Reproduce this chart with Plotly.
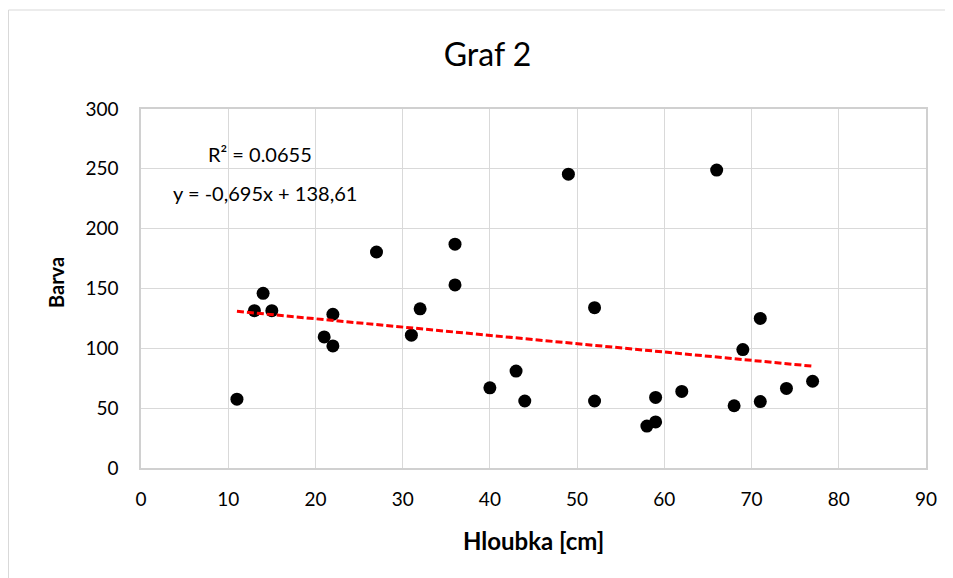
import plotly.graph_objects as go

hloubka = [11, 13, 14, 15, 21, 22, 22, 27, 31, 32, 36, 36, 40, 43, 44, 49, 52, 52,
           58, 59, 59, 62, 66, 68, 69, 71, 71, 74, 77]
barva = [57.5, 131.5, 146, 131.5, 109.5, 128.5, 102, 180.5, 111, 133, 187, 153, 67, 81, 56,
         245.5, 134, 56, 35, 38.5, 59, 64, 249, 52, 99, 125, 55.5, 66.5, 72.5]

slope = -0.695
intercept = 138.61
r2_text = "R² = 0.0655"
eq_text = "y = -0,695x + 138,61"

x_ticks = list(range(0, 91, 10))
y_ticks = list(range(0, 301, 50))

trend_x = [min(hloubka), max(hloubka)]
trend_y = [slope * v + intercept for v in trend_x]

FONT = "Lato"
W, H = 945, 570
L, R, T, B = 133, 27, 101, 110
PW, PH = W - L - R, H - T - B

fig = go.Figure()
fig.add_trace(go.Scatter(
    x=hloubka, y=barva, mode="markers",
    marker=dict(color="black", size=13),
    showlegend=False, hoverinfo="x+y"))
fig.add_trace(go.Scatter(
    x=trend_x, y=trend_y, mode="lines",
    line=dict(color="#ff0000", width=3, dash="7px,3px"),
    showlegend=False, hoverinfo="skip"))

fig.update_layout(
    width=W, height=H,
    margin=dict(l=L, r=R, t=T, b=B),
    paper_bgcolor="white", plot_bgcolor="white",
    font=dict(family=FONT, size=19, color="black"),
    title=dict(text="Graf 2", x=479.5 / W, xanchor="center", y=1 - 47 / H, yanchor="middle",
               font=dict(family=FONT, size=32, color="black")),
    xaxis=dict(range=[0, 90], tickvals=x_ticks, showgrid=True, gridcolor="#d9d9d9",
               gridwidth=1, zeroline=False, showline=True, linecolor="#d0d0d0",
               linewidth=1.5, mirror=True, ticks="outside", ticklen=13,
               tickcolor="rgba(0,0,0,0)",
               tickfont=dict(family=FONT, size=19)),
    yaxis=dict(range=[0, 300], tickvals=y_ticks, showgrid=True, gridcolor="#d9d9d9",
               gridwidth=1, zeroline=False, showline=True, linecolor="#d0d0d0",
               linewidth=1.5, mirror=True, ticks="outside", ticklen=17,
               tickcolor="rgba(0,0,0,0)",
               tickfont=dict(family=FONT, size=19)),
    annotations=[
        dict(x=13.65, y=262, xref="x", yref="y", text=r2_text, showarrow=False,
             font=dict(family=FONT, size=20, color="black"), xanchor="center"),
        dict(x=14.2, y=230, xref="x", yref="y", text=eq_text, showarrow=False,
             font=dict(family=FONT, size=20, color="black"), xanchor="center"),
        dict(x=(525 - L) / PW, y=(T + PH - 532) / PH, xref="paper", yref="paper",
             text="<b>Hloubka [cm]</b>", showarrow=False, xanchor="center", yanchor="middle",
             font=dict(family=FONT, size=24, color="black")),
        dict(x=(48 - L) / PW, y=(T + PH - 275) / PH, xref="paper", yref="paper",
             text="<b>Barva</b>", showarrow=False, xanchor="center", yanchor="middle",
             textangle=-90, font=dict(family=FONT, size=20, color="black")),
    ],
    shapes=[dict(type="rect", xref="paper", yref="paper",
                 x0=(0.5 - L) / PW, x1=(990 - L) / PW,
                 y0=(T + PH - 620) / PH, y1=(T + PH - 2) / PH,
                 line=dict(color="#d9d9d9", width=1), fillcolor="rgba(0,0,0,0)",
                 layer="below")],
)

fig.write_html("out.html")
